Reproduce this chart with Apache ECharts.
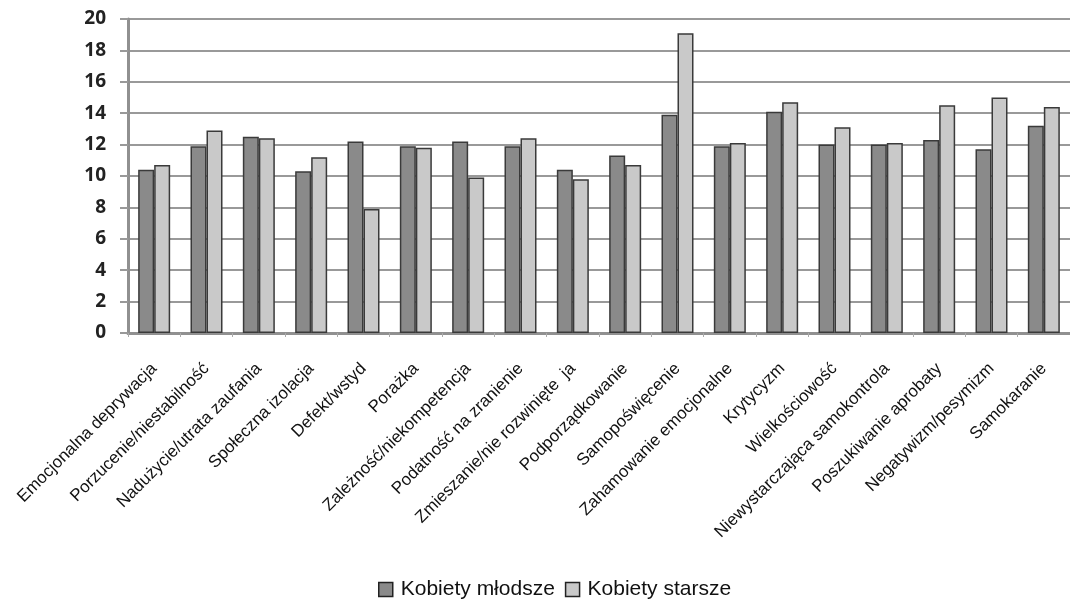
<!DOCTYPE html>
<html>
<head>
<meta charset="utf-8">
<script src="https://cdn.jsdelivr.net/npm/echarts@6/dist/echarts.min.js"></script>
<style>
  html, body { margin: 0; padding: 0; background: #fff; }
  #chart { width: 1070px; height: 599px; }
</style>
</head>
<body>
<div id="chart"></div>
<script>
// kategorie schematow
var categories = [
    'Emocjonalna deprywacja', 'Porzucenie/niestabilność', 'Nadużycie/utrata zaufania',
    'Społeczna izolacja', 'Defekt/wstyd', 'Porażka', 'Zależność/niekompetencja',
    'Podatność na zranienie', 'Zmieszanie/nie rozwinięte  ja', 'Podporządkowanie',
    'Samopoświęcenie', 'Zahamowanie emocjonalne', 'Krytycyzm', 'Wielkościowość',
    'Niewystarczająca samokontrola', 'Poszukiwanie aprobaty', 'Negatywizm/pesymizm',
    'Samokaranie'
];
var mlodsze = [10.4, 11.9, 12.5, 10.3, 12.2, 11.9, 12.2, 11.9, 10.4, 11.3,
    13.9, 11.9, 14.1, 12.0, 12.0, 12.3, 11.7, 13.2];
var starsze = [10.7, 12.9, 12.4, 11.2, 7.9, 11.8, 9.9, 12.4, 9.8, 10.7,
    19.1, 12.1, 14.7, 13.1, 12.1, 14.5, 15.0, 14.4];
var yTicks = { min: 0, max: 20, step: 2 };

var myChart = echarts.init(document.getElementById('chart'));

var option = {
    animation: false,
    backgroundColor: '#ffffff',
    grid: { left: 128, top: 19, bottom: 266, width: 950 },
    legend: {
        top: 574,
        left: 373,
        icon: 'rect',
        itemWidth: 14,
        itemHeight: 14,
        itemGap: 10,
        itemStyle: { borderColor: '#222', borderWidth: 1.5 },
        textStyle: { fontFamily: 'Liberation Sans', fontSize: 21, color: '#111', padding: [0, 0, 0, 3] },
        data: ['Kobiety młodsze', 'Kobiety starsze']
    },
    xAxis: {
        type: 'category',
        data: categories,
        axisLine: { lineStyle: { color: '#909090', width: 3 } },
        axisTick: { show: true, length: 4, lineStyle: { color: '#aaa' } },
        axisLabel: {
            interval: 0,
            rotate: 45,
            margin: 33,
            fontFamily: 'Liberation Sans',
            fontSize: 17,
            color: '#111'
        }
    },
    yAxis: {
        type: 'value',
        min: yTicks.min,
        max: yTicks.max,
        interval: yTicks.step,
        axisLine: { show: true, lineStyle: { color: '#909090', width: 3 } },
        axisTick: { show: true, length: 8, lineStyle: { color: '#999', width: 2 } },
        axisLabel: {
            margin: 22,
            fontFamily: 'Open Sans',
            fontWeight: 'bold',
            fontSize: 19,
            color: '#222'
        },
        splitLine: { lineStyle: { color: '#999', width: 2 } }
    },
    series: [
        {
            name: 'Kobiety młodsze',
            type: 'bar',
            data: mlodsze,
            barWidth: 16,
            barGap: '0%',
            itemStyle: { color: '#8a8a8a', borderColor: '#3a3a3a', borderWidth: 1.5 }
        },
        {
            name: 'Kobiety starsze',
            type: 'bar',
            data: starsze,
            barWidth: 16,
            itemStyle: { color: '#c9c9c9', borderColor: '#3a3a3a', borderWidth: 1.5 }
        }
    ]
};
myChart.setOption(option);
</script>
</body>
</html>
